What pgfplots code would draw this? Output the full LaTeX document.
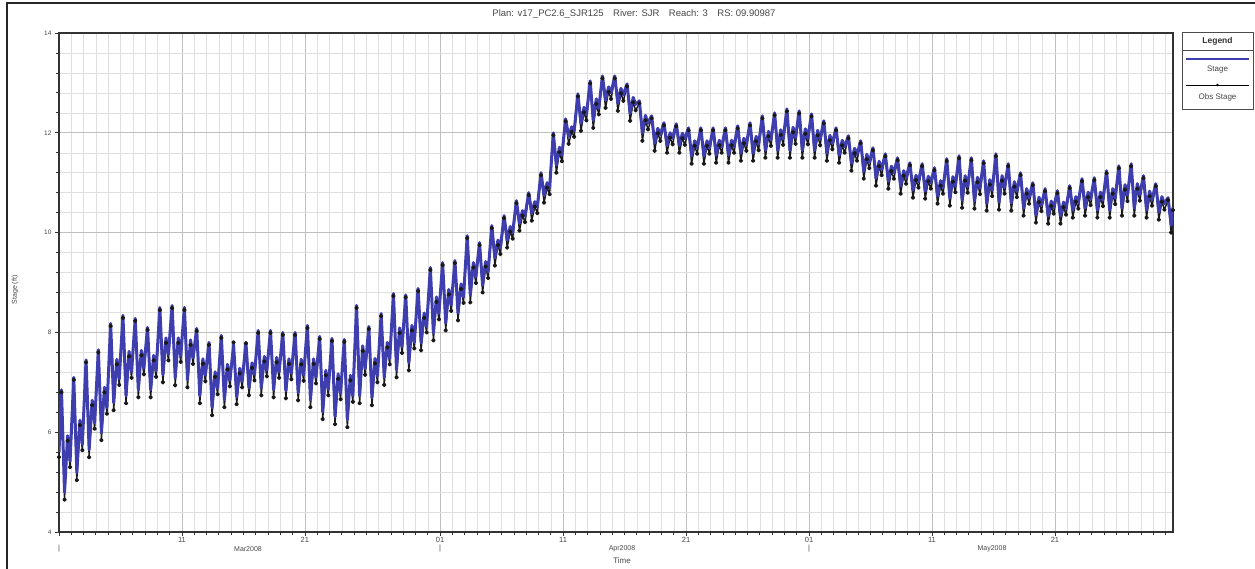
\documentclass[border=0pt]{standalone}
\usepackage{fontspec}
\setmainfont{Liberation Sans}
\usepackage{pgfplots}
\usepackage{pgfplotstable}
\pgfplotsset{compat=1.18}
\definecolor{stageblue}{RGB}{62,62,175}
\definecolor{txt}{RGB}{70,70,70}
\pgfplotstableread{
t s o
0 5.60 5.50
0.2 6.85 6.80
0.45 4.80 4.65
0.7 5.93 5.83
0.9 5.42 5.30
1.2 7.10 7.05
1.45 5.19 5.04
1.7 6.24 6.14
1.9 5.76 5.64
2.2 7.45 7.40
2.45 5.65 5.50
2.7 6.64 6.54
2.9 6.19 6.07
3.2 7.65 7.60
3.45 5.99 5.84
3.7 6.90 6.80
3.9 6.49 6.37
4.2 8.18 8.13
4.45 6.59 6.44
4.7 7.46 7.36
4.9 7.07 6.95
5.2 8.34 8.29
5.45 6.73 6.58
5.7 7.62 7.52
5.9 7.21 7.09
6.2 8.28 8.23
6.45 6.85 6.70
6.7 7.64 7.54
6.9 7.28 7.16
7.2 8.10 8.05
7.45 6.85 6.70
7.7 7.54 7.44
7.9 7.23 7.11
8.2 8.50 8.45
8.45 7.15 7.00
8.7 7.89 7.79
8.9 7.56 7.44
9.2 8.54 8.49
9.45 7.09 6.94
9.7 7.89 7.79
9.9 7.53 7.41
10.2 8.50 8.45
10.45 7.05 6.90
10.7 7.85 7.75
10.9 7.49 7.37
11.2 8.08 8.03
11.45 6.73 6.58
11.7 7.47 7.37
11.9 7.14 7.02
12.2 7.80 7.75
12.45 6.49 6.34
12.7 7.21 7.11
12.9 6.88 6.76
13.2 7.94 7.89
13.45 6.65 6.50
13.7 7.36 7.26
13.9 7.04 6.92
14.2 7.75 7.80
14.45 6.71 6.56
14.7 7.28 7.18
14.9 7.02 6.90
15.2 7.80 7.78
15.45 6.89 6.74
15.7 7.39 7.29
15.9 7.16 7.04
16.2 8.04 7.99
16.45 6.89 6.74
16.7 7.52 7.42
16.9 7.24 7.12
17.2 8.04 7.99
17.45 6.85 6.70
17.7 7.50 7.40
17.9 7.21 7.09
18.2 8.00 7.95
18.45 6.83 6.68
18.7 7.47 7.37
18.9 7.18 7.06
19.2 8.00 7.95
19.45 6.79 6.64
19.7 7.46 7.36
19.9 7.15 7.03
20.2 8.14 8.09
20.45 6.65 6.50
20.7 7.47 7.37
20.9 7.10 6.98
21.2 7.92 7.87
21.45 6.41 6.26
21.7 7.24 7.14
21.9 6.86 6.74
22.2 7.88 7.83
22.45 6.31 6.16
22.7 7.17 7.07
22.9 6.78 6.66
23.2 7.86 7.81
23.45 6.25 6.10
23.7 7.14 7.04
23.9 6.73 6.61
24.2 8.54 8.49
24.45 6.73 6.58
24.7 7.73 7.63
24.9 7.27 7.15
25.2 8.12 8.07
25.45 6.69 6.54
25.7 7.48 7.38
25.9 7.12 7.00
26.2 8.38 8.33
26.45 7.10 6.95
26.7 7.80 7.70
26.9 7.48 7.36
27.2 8.78 8.73
27.45 7.25 7.10
27.7 8.09 7.99
27.9 7.71 7.59
28.2 8.75 8.70
28.45 7.39 7.24
28.7 8.14 8.04
28.9 7.80 7.68
29.2 8.88 8.83
29.45 7.79 7.64
29.7 8.39 8.29
29.9 8.12 8.00
30.2 9.30 9.25
30.45 7.99 7.84
30.7 8.71 8.61
30.9 8.38 8.26
31.2 9.40 9.35
31.45 8.19 8.04
31.7 8.86 8.76
31.9 8.55 8.43
32.2 9.44 9.39
32.45 8.39 8.24
32.7 8.97 8.87
32.9 8.71 8.59
33.2 9.94 9.89
33.45 8.75 8.60
33.7 9.40 9.30
33.9 9.11 8.99
34.2 9.80 9.75
34.45 8.95 8.80
34.7 9.42 9.32
34.9 9.21 9.09
35.2 10.14 10.09
35.45 9.49 9.34
35.7 9.85 9.75
35.9 9.69 9.57
36.2 10.34 10.29
36.45 9.85 9.70
36.7 10.12 10.02
36.9 10.00 9.88
37.2 10.64 10.59
37.45 10.19 10.04
37.7 10.44 10.34
37.9 10.33 10.21
38.2 10.80 10.75
38.45 10.39 10.24
38.7 10.62 10.52
38.9 10.51 10.39
39.2 11.20 11.15
39.45 10.75 10.60
39.7 11.00 10.90
39.9 10.89 10.77
40.2 12.00 11.95
40.45 11.35 11.20
40.7 11.71 11.61
40.9 11.55 11.43
41.2 12.28 12.23
41.45 11.93 11.78
41.7 12.12 12.02
41.9 12.04 11.92
42.2 12.78 12.73
42.45 12.19 12.04
42.7 12.51 12.41
42.9 12.37 12.25
43.2 13.04 12.99
43.45 12.25 12.10
43.7 12.68 12.58
43.9 12.49 12.37
44.2 13.14 13.09
44.45 12.65 12.50
44.7 12.92 12.82
44.9 12.80 12.68
45.2 13.14 13.09
45.45 12.59 12.44
45.7 12.89 12.79
45.9 12.76 12.64
46.2 12.98 12.93
46.45 12.39 12.24
46.7 12.71 12.61
46.9 12.57 12.45
47.2 12.64 12.59
47.45 11.99 11.84
47.7 12.35 12.25
47.9 12.19 12.07
48.2 12.34 12.29
48.45 11.79 11.64
48.7 12.09 11.99
48.9 11.96 11.84
49.2 12.20 12.15
49.45 11.75 11.60
49.7 12.00 11.90
49.9 11.89 11.77
50.2 12.18 12.13
50.45 11.75 11.60
50.7 11.99 11.89
50.9 11.88 11.76
51.2 12.10 12.05
51.45 11.53 11.38
51.7 11.84 11.74
51.9 11.70 11.58
52.2 12.10 12.05
52.45 11.53 11.38
52.7 11.84 11.74
52.9 11.70 11.58
53.2 12.10 12.05
53.45 11.55 11.40
53.7 11.85 11.75
53.9 11.72 11.60
54.2 12.10 12.05
54.45 11.55 11.40
54.7 11.85 11.75
54.9 11.72 11.60
55.2 12.14 12.09
55.45 11.59 11.44
55.7 11.89 11.79
55.9 11.76 11.64
56.2 12.20 12.15
56.45 11.59 11.44
56.7 11.93 11.83
56.9 11.77 11.65
57.2 12.34 12.29
57.45 11.65 11.50
57.7 12.03 11.93
57.9 11.86 11.74
58.2 12.40 12.35
58.45 11.65 11.50
58.7 12.06 11.96
58.9 11.88 11.76
59.2 12.48 12.43
59.45 11.65 11.50
59.7 12.11 12.01
59.9 11.90 11.78
60.2 12.44 12.39
60.45 11.65 11.50
60.7 12.08 11.98
60.9 11.89 11.77
61.2 12.38 12.33
61.45 11.65 11.50
61.7 12.05 11.95
61.9 11.87 11.75
62.2 12.24 12.19
62.45 11.59 11.44
62.7 11.95 11.85
62.9 11.79 11.67
63.2 12.10 12.05
63.45 11.55 11.40
63.7 11.85 11.75
63.9 11.72 11.60
64.2 11.94 11.89
64.45 11.39 11.24
64.7 11.69 11.59
64.9 11.56 11.44
65.2 11.84 11.79
65.45 11.23 11.08
65.7 11.57 11.47
65.9 11.41 11.29
66.2 11.70 11.65
66.45 11.09 10.94
66.7 11.43 11.33
66.9 11.27 11.15
67.2 11.58 11.53
67.45 11.03 10.88
67.7 11.33 11.23
67.9 11.20 11.08
68.2 11.50 11.45
68.45 10.93 10.78
68.7 11.24 11.14
68.9 11.10 10.98
69.2 11.40 11.35
69.45 10.85 10.70
69.7 11.15 11.05
69.9 11.02 10.90
70.2 11.38 11.33
70.45 10.83 10.68
70.7 11.13 11.03
70.9 11.00 10.88
71.2 11.30 11.25
71.45 10.73 10.58
71.7 11.04 10.94
71.9 10.90 10.78
72.2 11.48 11.43
72.45 10.69 10.54
72.7 11.12 11.02
72.9 10.93 10.81
73.2 11.54 11.49
73.45 10.65 10.50
73.7 11.14 11.04
73.9 10.92 10.80
74.2 11.50 11.45
74.45 10.63 10.48
74.7 11.11 11.01
74.9 10.89 10.77
75.2 11.44 11.39
75.45 10.59 10.44
75.7 11.06 10.96
75.9 10.85 10.73
76.2 11.58 11.53
76.45 10.61 10.46
76.7 11.14 11.04
76.9 10.90 10.78
77.2 11.38 11.33
77.45 10.59 10.44
77.7 11.02 10.92
77.9 10.83 10.71
78.2 11.20 11.15
78.45 10.49 10.34
78.7 10.88 10.78
78.9 10.70 10.58
79.2 11.00 10.95
79.45 10.35 10.20
79.7 10.71 10.61
79.9 10.55 10.43
80.2 10.88 10.83
80.45 10.33 10.18
80.7 10.63 10.53
80.9 10.50 10.38
81.2 10.84 10.79
81.45 10.33 10.18
81.7 10.61 10.51
81.9 10.48 10.36
82.2 10.94 10.89
82.45 10.45 10.30
82.7 10.72 10.62
82.9 10.60 10.48
83.2 11.08 11.03
83.45 10.49 10.34
83.7 10.81 10.71
83.9 10.67 10.55
84.2 11.10 11.05
84.45 10.45 10.30
84.7 10.81 10.71
84.9 10.65 10.53
85.2 11.24 11.19
85.45 10.45 10.30
85.7 10.88 10.78
85.9 10.69 10.57
86.2 11.34 11.29
86.45 10.49 10.34
86.7 10.96 10.86
86.9 10.75 10.63
87.2 11.38 11.33
87.45 10.49 10.34
87.7 10.98 10.88
87.9 10.76 10.64
88.2 11.14 11.09
88.45 10.45 10.30
88.7 10.83 10.73
88.9 10.66 10.54
89.2 10.98 10.93
89.45 10.41 10.26
89.7 10.72 10.62
89.9 10.58 10.46
90.2 10.70 10.65
90.45 10.15 10.00
90.6 10.50 10.45
}\data

\begin{document}
\begin{tikzpicture}[x=1pt,y=1pt]
\path[use as bounding box] (-59,-37) rectangle (1196,532);
\begin{axis}[
  at={(0,0)}, anchor=south west,
  scale only axis, width=1114pt, height=499pt,
  xmin=0, xmax=90.6, ymin=4, ymax=14,
  xtick={0,10,20,31,41,51,61,71,81},
  xticklabels={{\strut\\|},11,21,{01\\|},11,21,{01\\|},11,21},
  minor xtick={0,1,...,90},
  ytick={4,6,...,14},
  minor y tick num=4,
  grid=both,
  major grid style={gray!50, line width=0.6pt},
  minor grid style={gray!25, line width=0.5pt},
  axis line style={line width=1.8pt, black!80},
  tick style={black!80, line width=0.8pt},
  major tick length=4pt, minor tick length=3pt,
  tick align=outside,
  xtick pos=bottom, ytick pos=left,
  xticklabel style={font=\fontsize{7.5}{8}\selectfont, text=txt, align=center, inner sep=1pt},
  yticklabel style={font=\fontsize{6.5}{7}\selectfont, text=txt},
  /pgf/number format/assume math mode=true,
  clip=true,
]
\addplot[black!90, line width=1.4pt, line join=round, mark=*, mark size=1.5pt] table[x=t,y=o]{\data};
\addplot[stageblue, line width=3pt, line join=round] table[x=t,y=s]{\data};
\end{axis}
% axis annotations
\node[font=\fontsize{7}{8}\selectfont, text=txt] at (189,-17) {Mar2008};
\node[font=\fontsize{7}{8}\selectfont, text=txt] at (563,-17) {Apr2008};
\node[font=\fontsize{7}{8}\selectfont, text=txt] at (933,-17) {May2008};
\node[font=\fontsize{8}{9}\selectfont, text=txt] at (563,-29) {Time};
\node[font=\fontsize{7}{8}\selectfont, text=txt, rotate=90] at (-44,242) {Stage (ft)};
\node[font=\fontsize{9.5}{10}\selectfont, text=txt] at (575,518) {Plan: v17\_PC2.6\_SJR125\quad River: SJR\quad Reach: 3\quad RS: 09.90987};
% legend
\draw[black!70, line width=1pt] (1123,422) rectangle (1194,499);
\node[font=\bfseries\fontsize{8.5}{9}\selectfont, text=black!80] at (1158.5,490.5) {Legend};
\draw[black!70, line width=0.8pt] (1123,482) -- (1194,482);
\draw[stageblue, line width=1.6pt] (1127,473) -- (1190,473);
\node[font=\fontsize{8}{9}\selectfont, text=txt] at (1158.5,462) {Stage};
\draw[black, line width=0.8pt] (1127,447) -- (1190,447);
\fill[black] (1158.5,447) circle (1.3pt);
\node[font=\fontsize{8}{9}\selectfont, text=txt] at (1158.5,435) {Obs Stage};
% outer frame
\draw[line width=1.5pt, black!85] (-52,-37) -- (-52,529) -- (1196,529);
\end{tikzpicture}
\end{document}
